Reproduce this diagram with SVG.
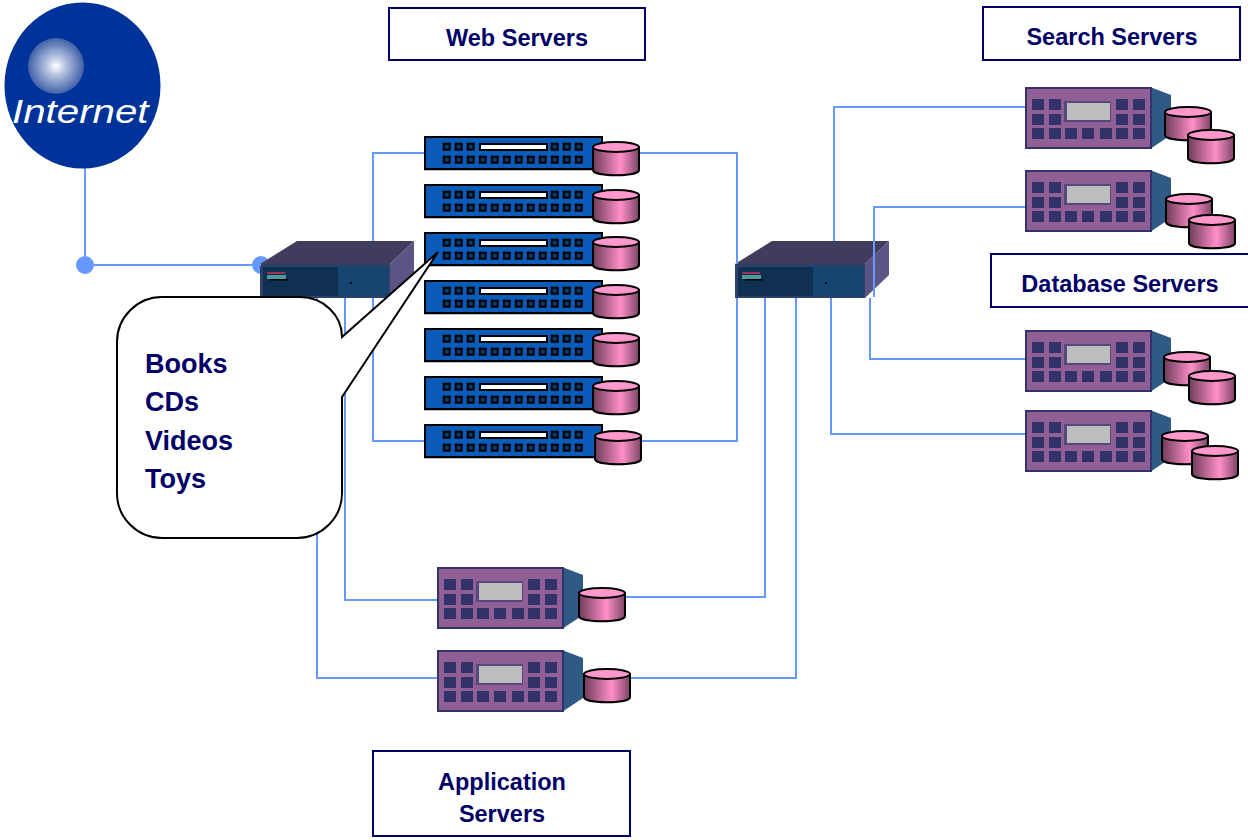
<svg xmlns="http://www.w3.org/2000/svg" xmlns:xlink="http://www.w3.org/1999/xlink" width="1248" height="840" viewBox="0 0 1248 840">
<style>
.conn{fill:none;stroke:#6699ff;stroke-width:2}
.lbl{fill:#fff;stroke:#000066;stroke-width:2}
.t{font-family:"Liberation Sans",Arial,sans-serif;font-weight:bold;font-size:23.5px;fill:#000066;text-anchor:middle}
.c{font-family:"Liberation Sans",Arial,sans-serif;font-weight:bold;font-size:27px;fill:#000066}
</style>
<defs>
<radialGradient id="glow"><stop offset="0" stop-color="#ffffff"/><stop offset=".35" stop-color="#b4c1de"/><stop offset="1" stop-color="#3f5fa8"/></radialGradient>
<linearGradient id="drumg" x1="0" x2="1" y1="0" y2="0"><stop offset="0" stop-color="#6e3c5a"/><stop offset=".6" stop-color="#ff8fc8"/><stop offset="1" stop-color="#7d4566"/></linearGradient>
<filter id="soft" x="-10%" y="-10%" width="120%" height="120%"><feGaussianBlur stdDeviation="0.7"/></filter>
<g id="drum">
<path d="M1,6 V29 C1,36 47,36 47,29 V6 Z" fill="url(#drumg)" stroke="#000" stroke-width="2"/>
<ellipse cx="24" cy="6" rx="23" ry="5" fill="#ff99cc" stroke="#000" stroke-width="2"/>
</g>
<g id="k"><rect x="-3" y="-3" width="6" height="6" fill="#0c3a66" stroke="#000" stroke-width="2"/></g>
<g id="web">
<rect x="-1" y="1" width="179" height="33" fill="#bbb"/>
<rect x="0" y="0" width="177" height="32" fill="#0a5cb8" stroke="#000" stroke-width="2"/>
<rect x="55" y="7" width="67" height="6" fill="#fff" stroke="#000" stroke-width="2"/>
<use href="#k" x="21.7" y="9.7"/><use href="#k" x="33.7" y="9.7"/><use href="#k" x="45.7" y="9.7"/>
<use href="#k" x="129.7" y="9.7"/><use href="#k" x="141.7" y="9.7"/><use href="#k" x="153.7" y="9.7"/>
<use href="#k" x="21.7" y="22.7"/><use href="#k" x="33.7" y="22.7"/><use href="#k" x="45.7" y="22.7"/><use href="#k" x="57.7" y="22.7"/><use href="#k" x="69.7" y="22.7"/><use href="#k" x="81.7" y="22.7"/><use href="#k" x="93.7" y="22.7"/><use href="#k" x="105.7" y="22.7"/><use href="#k" x="117.7" y="22.7"/><use href="#k" x="129.7" y="22.7"/><use href="#k" x="141.7" y="22.7"/><use href="#k" x="153.7" y="22.7"/>
</g>
<g id="srv">
<path d="M125,0 L146,8 V48 L125,62 Z" fill="#2f5a85" filter="url(#soft)"/>
<rect x="1" y="1" width="125" height="60" fill="#8f5f96" stroke="#33336b" stroke-width="2"/>
<g fill="#33336b" filter="url(#soft)">
<rect x="7" y="12" width="12" height="11"/><rect x="24" y="12" width="12" height="11"/><rect x="91" y="12" width="12" height="11"/><rect x="108" y="12" width="12" height="11"/>
<rect x="7" y="27" width="12" height="11"/><rect x="24" y="27" width="12" height="11"/><rect x="91" y="27" width="12" height="11"/><rect x="108" y="27" width="12" height="11"/>
<rect x="7" y="41" width="12" height="11"/><rect x="24" y="41" width="12" height="11"/><rect x="40" y="41" width="12" height="11"/><rect x="57" y="41" width="12" height="11"/><rect x="75" y="41" width="12" height="11"/><rect x="91" y="41" width="12" height="11"/><rect x="108" y="41" width="12" height="11"/>
<rect x="39" y="14" width="47" height="21" fill="#54497e"/>
</g>
<rect x="42" y="16" width="43" height="17" fill="#bdbdbd" filter="url(#soft)"/>
</g>
<g id="sw">
<path d="M0,23 L37,0 H154 L130,23 Z" fill="#403d5c"/>
<path d="M130,23 L154,0 V34 L130,57 Z" fill="#5a5585"/>
<rect x="0" y="23" width="130" height="34" fill="#2b4168"/>
<rect x="3" y="26" width="75" height="29" fill="#0f3050"/>
<rect x="78" y="26" width="50" height="29" fill="#134570"/>
<rect x="7" y="31" width="18" height="2" fill="#a03050"/>
<rect x="7" y="34" width="19" height="4" fill="#4a9a9f"/>
<rect x="10" y="38" width="18" height="1.5" fill="#000"/>
<rect x="90" y="41" width="2" height="2" fill="#000"/>
</g>
</defs>

<circle cx="261" cy="265" r="9" fill="#6699ff"/>
<g id="switch-left"><use href="#sw" x="260" y="241"/></g>
<g id="switch-right"><use href="#sw" x="735" y="241"/></g>

<g id="connectors">
<path class="conn" d="M85,168 V265 H261"/>
<circle cx="85" cy="265" r="9" fill="#6699ff"/>
<path class="conn" d="M425,153 H373 V241 M373,298 V441 H425"/>
<path class="conn" d="M640,153 H737 V264 M737,298 V441 H642"/>
<path class="conn" d="M345,298 V600 H437"/>
<path class="conn" d="M317,298 V678 H437"/>
<path class="conn" d="M626,597 H765 V298"/>
<path class="conn" d="M631,678 H796 V298"/>
<path class="conn" d="M1025,107 H834 V241"/>
<path class="conn" d="M1025,207 H874 V297"/>
<path class="conn" d="M1025,359 H870 V298"/>
<path class="conn" d="M1025,434 H831 V298"/>
</g>

<g id="internet">
<ellipse cx="82.5" cy="85.5" rx="78" ry="83" fill="#003399"/>
<circle cx="56" cy="66" r="28" fill="url(#glow)"/>
<text transform="translate(12,123) scale(1.22,1)" font-family="Liberation Sans,Arial,sans-serif" font-style="italic" font-size="33" fill="#fff">Internet</text>
</g>

<g id="web1"><use href="#web" x="425" y="137"/><use href="#drum" x="592" y="141"/></g>
<g id="web2"><use href="#web" x="425" y="185"/><use href="#drum" x="592" y="189"/></g>
<g id="web3"><use href="#web" x="425" y="233"/><use href="#drum" x="592" y="236"/></g>
<g id="web4"><use href="#web" x="425" y="281"/><use href="#drum" x="592" y="284"/></g>
<g id="web5"><use href="#web" x="425" y="329"/><use href="#drum" x="592" y="332"/></g>
<g id="web6"><use href="#web" x="425" y="377"/><use href="#drum" x="592" y="380"/></g>
<g id="web7"><use href="#web" x="425" y="425"/><use href="#drum" x="594" y="430"/></g>

<g id="search1"><use href="#srv" x="1025" y="87"/><use href="#drum" x="1164" y="106"/><use href="#drum" x="1187" y="129"/></g>
<g id="search2"><use href="#srv" x="1025" y="170"/><use href="#drum" x="1165" y="193"/><use href="#drum" x="1188" y="214"/></g>
<g id="db1"><use href="#srv" x="1025" y="330"/><use href="#drum" x="1163" y="351"/><use href="#drum" x="1188" y="370"/></g>
<g id="db2"><use href="#srv" x="1025" y="410"/><use href="#drum" x="1161" y="430"/><use href="#drum" x="1191" y="445"/></g>
<g id="app1"><use href="#srv" x="437" y="567"/><use href="#drum" x="578" y="587"/></g>
<g id="app2"><use href="#srv" x="437" y="650"/><use href="#drum" x="583" y="668"/></g>

<g id="label-web"><rect class="lbl" x="389" y="8" width="256" height="52"/><text class="t" x="517" y="46">Web Servers</text></g>
<g id="label-search"><rect class="lbl" x="983" y="7" width="257" height="53"/><text class="t" x="1112" y="45">Search Servers</text></g>
<g id="label-db"><rect class="lbl" x="991" y="254" width="258" height="53"/><text class="t" x="1120" y="292">Database Servers</text></g>
<g id="label-app"><rect class="lbl" x="373" y="751" width="257" height="85"/><text class="t" x="502" y="790">Application</text><text class="t" x="502" y="822">Servers</text></g>

<g id="callout">
<path d="M162,297 H300 A42,40 0 0 1 342,337 L438,252 L342,397 V493 A45,45 0 0 1 297,538 H162 A45,45 0 0 1 117,493 V342 A45,45 0 0 1 162,297 Z" fill="#fff" stroke="#000" stroke-width="2"/>
<text class="c" x="145" y="373">Books</text>
<text class="c" x="145" y="411">CDs</text>
<text class="c" x="145" y="450">Videos</text>
<text class="c" x="145" y="488">Toys</text>
</g>
</svg>
